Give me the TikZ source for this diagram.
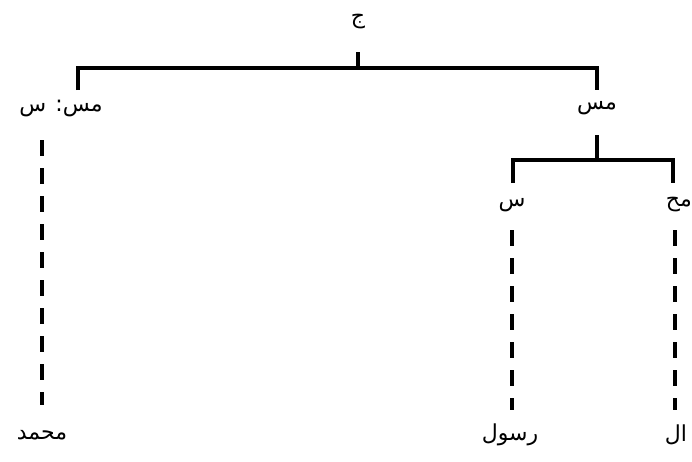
\documentclass[tikz,border=0pt]{standalone}
\usepackage{fontspec}
\newfontfamily\arabicfont[Script=Arabic]{DejaVu Sans}
\TeXXeTstate=1
\tikzset{
  word/.style={font=\arabicfont\fontsize{22}{24}\selectfont, inner sep=0pt},
  branch/.style={line width=4.5pt, line join=miter},
  trace/.style={line width=4.5pt, dash pattern=on 16pt off 12pt}
}
\begin{document}
\begin{tikzpicture}[x=1pt, y=-1pt]
    \useasboundingbox (0,0) rectangle (692,461);
    % labels
    \node (jim) [word] at (358,22) {\beginR ج\endR};
    \node (mssin) [word] at (61,108) {\beginR مس: س\endR};
    \node (ms) [word] at (597,108) {\beginR مس\endR};
    \node (sin) [word] at (512,205) {\beginR س\endR};
    \node (mh) [word, anchor=east] at (692,205) {\beginR مح\endR};
    \node (muhammad) [word] at (42,435) {\beginR محمد\endR};
    \node (rasul) [word] at (510,435) {\beginR رسول\endR};
    \node (al) [word] at (676,435) {\beginR ال\endR};
    % top branch
    \coordinate (jimtop) at (358,52);
    \coordinate (jimbar) at (358,68);
    \coordinate (leftbar) at (78,68);
    \coordinate (rightbar) at (597,68);
    \coordinate (leftfoot) at (78,90);
    \coordinate (rightfoot) at (597,90);
    \draw[branch] (jimtop) -- (jimbar);
    \draw[branch] (leftfoot) -- (leftbar) -- (rightbar) -- (rightfoot);
    % lower branch
    \coordinate (mstop) at (597,135);
    \coordinate (msbar) at (597,160);
    \coordinate (sinbar) at (513,160);
    \coordinate (mhbar) at (673,160);
    \coordinate (sinfoot) at (513,183);
    \coordinate (mhfoot) at (673,183);
    \draw[branch] (mstop) -- (msbar);
    \draw[branch] (sinfoot) -- (sinbar) -- (mhbar) -- (mhfoot);
    % traces down to the words
    \coordinate (mssintail) at (42,140);
    \coordinate (muhammadtop) at (42,405);
    \coordinate (sintail) at (512,230);
    \coordinate (rasultop) at (512,410);
    \coordinate (mhtail) at (675,230);
    \coordinate (altop) at (675,410);
    \draw[trace] (mssintail) -- (muhammadtop);
    \draw[trace] (sintail) -- (rasultop);
    \draw[trace] (mhtail) -- (altop);
\end{tikzpicture}
\end{document}
